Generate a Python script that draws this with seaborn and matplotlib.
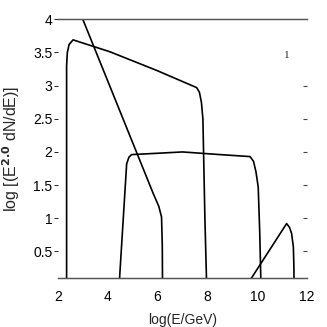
import matplotlib
matplotlib.use("Agg")
import matplotlib.pyplot as plt
import seaborn as sns
import pandas as pd
from matplotlib.ticker import FormatStrFormatter

sns.set_theme(style="white")
plt.rcParams["font.family"] = ["Liberation Sans", "DejaVu Sans"]

# curve values (log E, log E^2 dN/dE)
steep_x = [2.85, 3.0, 5.83, 6.05, 6.16, 6.19, 6.2]
steep_y = [4.15, 4.0, 1.37, 1.18, 1.02, 0.6, 0.0]

low_x = [2.35, 2.35, 2.38, 2.45, 2.61, 4.09, 5.96, 7.57, 7.68, 7.76, 7.82, 7.9, 7.97]
low_y = [0.0, 3.3, 3.5, 3.62, 3.69, 3.51, 3.23, 2.97, 2.9, 2.75, 2.5, 1.0, 0.0]

mid_x = [4.46, 4.76, 4.85, 4.96, 6.0, 7.0, 8.5, 9.71, 9.85, 9.95, 10.04, 10.1, 10.15]
mid_y = [0.0, 1.82, 1.92, 1.96, 1.98, 2.0, 1.96, 1.93, 1.86, 1.7, 1.47, 0.8, 0.0]

high_x = [9.6, 11.18, 11.3, 11.38, 11.45, 11.47, 11.48]
high_y = [0.0, 0.92, 0.86, 0.77, 0.57, 0.3, 0.0]

curves = {"a": (steep_x, steep_y), "b": (low_x, low_y),
          "c": (mid_x, mid_y), "d": (high_x, high_y)}

fig = plt.figure(figsize=(3.27, 3.27), dpi=100)
ax = fig.add_axes([0.177, 0.150, 0.762, 0.791])

for name, (xs, ys) in curves.items():
    d = pd.DataFrame({"x": xs, "y": ys})
    sns.lineplot(data=d, x="x", y="y", sort=False, color="black", lw=1.2,
                 ax=ax, estimator=None)

ax.set_xlim(2, 12)
ax.set_ylim(0.1, 4)
ax.set_xticks([2, 4, 6, 8, 10, 12])
ax.set_yticks([0.5, 1, 1.5, 2, 2.5, 3, 3.5, 4])
ax.yaxis.set_major_formatter(FormatStrFormatter("%g"))
ax.tick_params(axis="both", labelsize=10, colors="black", length=3, width=0.6,
               direction="out")
ax.tick_params(axis="x", bottom=False, pad=6)
ax.tick_params(axis="y", left=True, pad=1)

# small inward dashes on the right edge
ax2 = ax.twinx()
ax2.set_ylim(ax.get_ylim())
ax2.set_yticks([0.5, 1, 1.5, 2, 2.5, 3])
ax2.tick_params(axis="y", direction="in", length=3, width=0.8, color="#444444",
                labelright=False)
ax2.grid(False)

for a in (ax, ax2):
    for side in ["left", "right"]:
        a.spines[side].set_visible(False)
    for side in ["top", "bottom"]:
        a.spines[side].set_color("#555555")
        a.spines[side].set_linewidth(0.9)

ax.set_xlabel("log(E/GeV)", fontsize=10, labelpad=6)
ax.set_ylabel("log [(E$^{\\mathbf{2.0}}$ dN/dE)]", fontsize=11.5, labelpad=8)
ax.text(11.2, 3.46, "1", fontsize=8, family="Liberation Serif", ha="center", va="center")

fig.savefig("out.png", dpi=100)
